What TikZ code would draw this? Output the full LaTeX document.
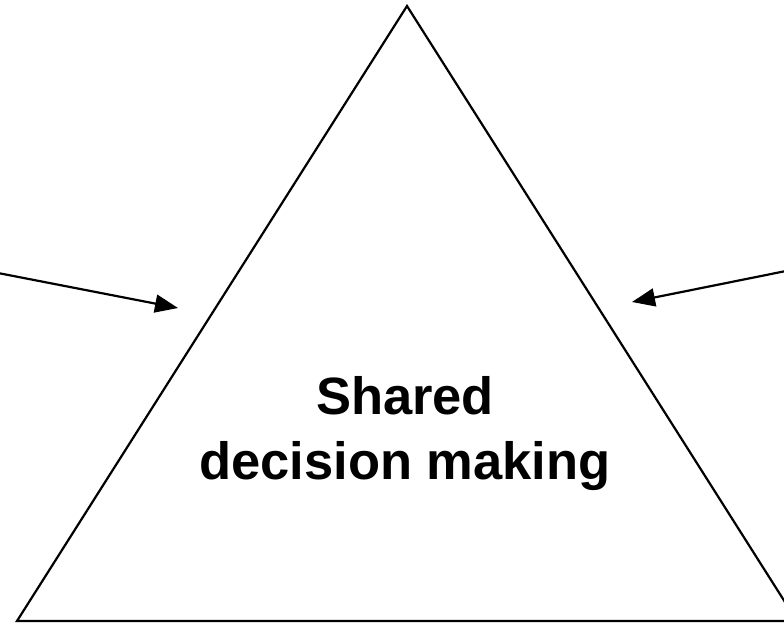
\documentclass[tikz,border=0pt]{standalone}
\usepackage{fontspec}
\setmainfont{Liberation Sans}
\usetikzlibrary{arrows.meta}
\begin{document}
\begin{tikzpicture}[x=1pt,y=-1pt,
  edge/.style={line width=2.2pt},
  conn/.style={line width=2.2pt,-{Triangle[length=23pt,width=18pt]}},
  label/.style={font=\fontsize{52.5}{65}\selectfont\bfseries,align=center,inner sep=0pt}]
\useasboundingbox (0,0) rectangle (784,626);
\clip (0,0) rectangle (784,626);
\fill[white] (0,0) rectangle (784,626);
\coordinate (apex) at (407,6);
\coordinate (bl) at (17,621);
\coordinate (br) at (797,621);
\draw[edge,line join=miter] (bl) -- (apex) -- (br) -- cycle;
\node[label] (sdm) at (405,434) {Shared\\decision making};
\coordinate (lstart) at (-2,273);
\coordinate (ltip) at (178,308);
\coordinate (rstart) at (786,271);
\coordinate (rtip) at (632,302);
\draw[conn] (lstart) -- (ltip);
\draw[conn] (rstart) -- (rtip);
\end{tikzpicture}
\end{document}
